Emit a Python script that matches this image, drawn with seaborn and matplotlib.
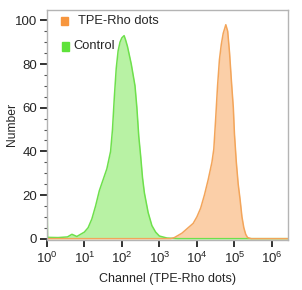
import numpy as np
import pandas as pd
import matplotlib
matplotlib.use("Agg")
import matplotlib.pyplot as plt
from matplotlib.patches import Rectangle
import seaborn as sns

# histogram traces, channel given as log10 value
control_log = [0.0, 0.02, 0.3, 0.55, 0.67, 0.8, 1.0, 1.1, 1.2, 1.3, 1.4, 1.5, 1.6, 1.7,
               1.75, 1.8, 1.85, 1.9, 1.95, 2.0, 2.06, 2.1, 2.15, 2.2, 2.25, 2.3, 2.35,
               2.4, 2.45, 2.5, 2.55, 2.6, 2.7, 2.8, 2.9, 3.0, 3.2, 3.5, 6.43]
control_count = [25, 0.6, 0.5, 0.8, 2, 1, 3, 5, 9, 15, 22, 27, 32, 40,
                 50, 65, 78, 86, 90, 92, 93, 91, 88, 84, 80, 75, 70,
                 60, 47, 38, 28, 21, 12, 6, 3, 1.2, 0.3, 0, 0]

dots_log = [0.0, 3.3, 3.4, 3.5, 3.6, 3.7, 3.8, 3.9, 4.0, 4.1, 4.2, 4.3, 4.4, 4.45,
            4.5, 4.55, 4.6, 4.65, 4.7, 4.77, 4.82, 4.87, 4.92, 4.97, 5.0, 5.05,
            5.1, 5.15, 5.2, 5.25, 5.3, 5.35, 5.45, 6.43]
dots_count = [0, 0, 0.5, 1.5, 2.5, 4, 5.5, 7, 10, 14, 20, 27, 35, 41,
              55, 70, 82, 89, 94, 98, 95, 85, 72, 60, 48, 35,
              25, 18, 10, 5, 2, 0.5, 0, 0]

x_label = "Channel (TPE-Rho dots)"
y_label = "Number"
series_names = ["TPE-Rho dots", "Control"]

sns.set_style("ticks")
plt.rcParams["font.family"] = ["Liberation Sans", "DejaVu Sans"]

df_ctrl = pd.DataFrame({"channel": 10 ** np.array(control_log), "count": control_count})
df_dots = pd.DataFrame({"channel": 10 ** np.array(dots_log), "count": dots_count})

fig = plt.figure(figsize=(3.02, 2.90), dpi=100)
ax = fig.add_axes([0.155, 0.174, 0.799, 0.792])

ax.fill_between(df_ctrl["channel"], df_ctrl["count"], color="#b8f2a4", lw=0)
sns.lineplot(data=df_ctrl, x="channel", y="count", ax=ax, color="#6ee04c", lw=1.1,
             sort=False, estimator=None)
ax.fill_between(df_dots["channel"], df_dots["count"], color="#fbcfa8", lw=0)
sns.lineplot(data=df_dots, x="channel", y="count", ax=ax, color="#f3a55a", lw=1.1,
             sort=False, estimator=None)

ax.set_xscale("log")
ax.set_xlim(1, 10 ** 6.43)
ax.set_ylim(-0.4, 104.8)
ax.set_yticks([0, 20, 40, 60, 80, 100])
ax.set_yticks(np.arange(0, 105, 5), minor=True)
ax.set_xticks([10 ** i for i in range(7)])

for s in ax.spines.values():
    s.set_color("#b4b4b4")
    s.set_linewidth(1.0)

ax.tick_params(axis="both", which="major", direction="out", length=5, width=1.4,
               color="#333333", labelsize=9.5, pad=2)
ax.tick_params(axis="both", which="minor", direction="out", length=2.5, width=0.8,
               color="#555555")
ax.tick_params(axis="x", which="major", pad=3)

ax.set_xlabel(x_label, fontsize=9, labelpad=5)
ax.set_ylabel(y_label, fontsize=8.7)
ax.yaxis.set_label_coords(-0.12, 0.5)

# legend squares and labels
ax.add_patch(Rectangle((0.060, 0.932), 0.029, 0.038, transform=ax.transAxes,
                       color="#f7963e", clip_on=False))
ax.text(0.130, 0.950, series_names[0], transform=ax.transAxes, fontsize=9.3, va="center")
ax.add_patch(Rectangle((0.064, 0.820), 0.029, 0.040, transform=ax.transAxes,
                       color="#5ee23a", clip_on=False))
ax.text(0.109, 0.842, series_names[1], transform=ax.transAxes, fontsize=9.3, va="center")

fig.savefig("out.png", dpi=100)
